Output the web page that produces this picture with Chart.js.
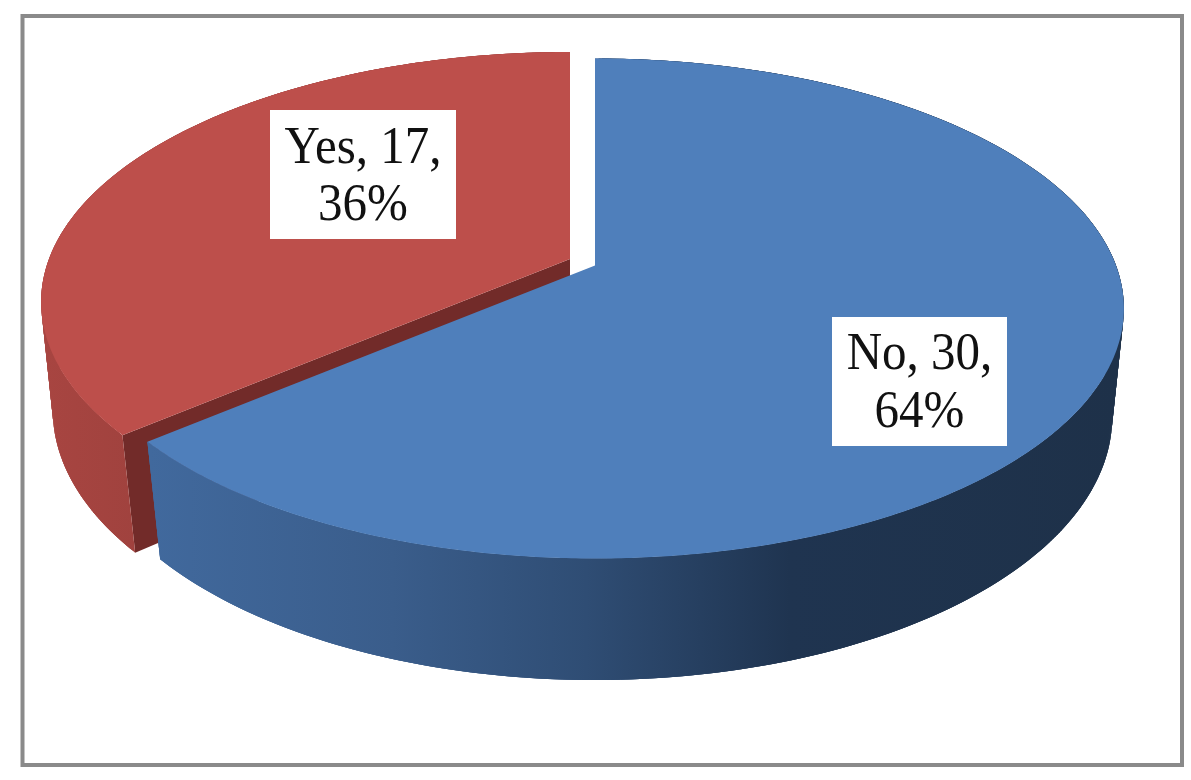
<!DOCTYPE html>
<html>
<head>
<meta charset="utf-8">
<title>Yes / No pie</title>
<script src="https://cdn.jsdelivr.net/npm/chart.js@4"></script>
<style>
  html, body { margin: 0; background: #fff; }
  canvas { display: block; }
</style>
</head>
<body>
<canvas id="pieChart" width="1191" height="780"></canvas>
<script>
const categories = ['No', 'Yes'];
const counts = [30, 17];
const percents = [64, 36];

const topColors = ['#4f7fbb', '#bd4f4b'];
const innerColors = ['#2f4d74', '#722b29'];

// perspective of the pie's top and bottom planes (the slices are unit circle sectors)
const topPlane = { cx: 595, cy: 265.5, a: 521, b: 242.6, p: 0.172 };
const bottomPlane = { cx: 595, cy: 374.2, a: 510.6, b: 256.9, p: 0.16 };
const sliceShift = [[0, 0], [-25, -6.5]];
const labelBoxes = [
    { x: 832, y: 317, w: 175, h: 129, line1: 369, line2: 427 },
    { x: 270, y: 110, w: 186, h: 129, line1: 163, line2: 220 }
];
const labelStretch = 1.08;

function project(plane, shift, angle, r) {
    // chart.js angles start at -PI/2 (top of the pie), clockwise
    const x = r * Math.cos(angle);
    const y = r * Math.sin(angle);
    const w = 1 - plane.p * y;
    return [plane.cx + shift[0] + plane.a * x / w, plane.cy + shift[1] + plane.b * y / w];
}

function fillPoly(ctx, pts, style) {
    ctx.beginPath();
    pts.forEach((p, i) => i ? ctx.lineTo(p[0], p[1]) : ctx.moveTo(p[0], p[1]));
    ctx.closePath();
    ctx.fillStyle = style;
    ctx.fill();
}

function wallGradient(ctx, i) {
    if (i === 1) {
        const g = ctx.createLinearGradient(40, 0, 140, 0);
        g.addColorStop(0, '#a84541');
        g.addColorStop(1, '#a0423e');
        return g;
    }
    const g = ctx.createLinearGradient(150, 0, 1120, 0);
    g.addColorStop(0, '#41699d');
    g.addColorStop(0.25, '#3a5d8b');
    g.addColorStop(0.45, '#2f4d74');
    g.addColorStop(0.66, '#1f3450');
    g.addColorStop(1, '#1e3149');
    return g;
}

function drawSlice(ctx, arc, i) {
    const shift = sliceShift[i];
    const start = arc.startAngle, end = arc.endAngle;
    const steps = Math.ceil((end - start) / 0.008);
    const angles = [];
    for (let k = 0; k <= steps; k++) angles.push(start + (end - start) * k / steps);

    // cut face that shows when the slices are pulled apart
    fillPoly(ctx, [
        project(topPlane, shift, start, 0),
        project(topPlane, shift, start, 1),
        project(bottomPlane, shift, start, 1),
        project(bottomPlane, shift, start, 0)
    ], innerColors[i]);

    // outer wall, quads overlap so no seams show
    const wall = wallGradient(ctx, i);
    for (let k = 0; k < steps; k++) {
        const next = Math.min(k + 3, steps);
        fillPoly(ctx, [
            project(topPlane, shift, angles[k], 1),
            project(topPlane, shift, angles[next], 1),
            project(bottomPlane, shift, angles[next], 1),
            project(bottomPlane, shift, angles[k], 1)
        ], wall);
    }

    // top face
    const face = [project(topPlane, shift, start, 0)];
    angles.forEach(a => face.push(project(topPlane, shift, a, 1)));
    fillPoly(ctx, face, arc.options.backgroundColor);
}

function stretchedText(ctx, text, x, y) {
    ctx.save();
    ctx.translate(x, y);
    ctx.scale(1, labelStretch);
    ctx.fillText(text, 0, 0);
    ctx.restore();
}

const pie3d = {
    id: 'pie3d',
    beforeDraw(chart) {
        const ctx = chart.ctx;
        ctx.save();
        ctx.fillStyle = '#fff';
        ctx.fillRect(0, 0, chart.width, chart.height);
        ctx.strokeStyle = '#8a8a8a';
        ctx.lineWidth = 4;
        ctx.strokeRect(22.5, 16, 1159.5, 749);
        ctx.restore();
    },
    beforeDatasetDraw(chart, args) {
        const ctx = chart.ctx;
        const arcs = chart.getDatasetMeta(args.index).data;
        ctx.save();
        // far slice first, the big one sits on top of it
        for (let i = arcs.length - 1; i >= 0; i--) drawSlice(ctx, arcs[i], i);
        ctx.restore();
        return false;
    },
    afterDatasetsDraw(chart) {
        const ctx = chart.ctx;
        ctx.save();
        categories.forEach((name, i) => {
            const box = labelBoxes[i];
            const mid = box.x + box.w / 2;
            ctx.fillStyle = '#fff';
            ctx.fillRect(box.x, box.y, box.w, box.h);
            ctx.fillStyle = '#111';
            ctx.font = '49px "Liberation Serif"';
            ctx.textAlign = 'center';
            ctx.textBaseline = 'alphabetic';
            stretchedText(ctx, name + ', ' + counts[i] + ',', mid, box.line1);
            stretchedText(ctx, percents[i] + '%', mid, box.line2);
        });
        ctx.restore();
    }
};

new Chart(document.getElementById('pieChart').getContext('2d'), {
    type: 'pie',
    data: {
        labels: categories,
        datasets: [{ data: counts, backgroundColor: topColors, borderWidth: 0 }]
    },
    options: {
        responsive: false,
        animation: false,
        plugins: { legend: { display: false }, tooltip: { enabled: false } }
    },
    plugins: [pie3d]
});
</script>
</body>
</html>
